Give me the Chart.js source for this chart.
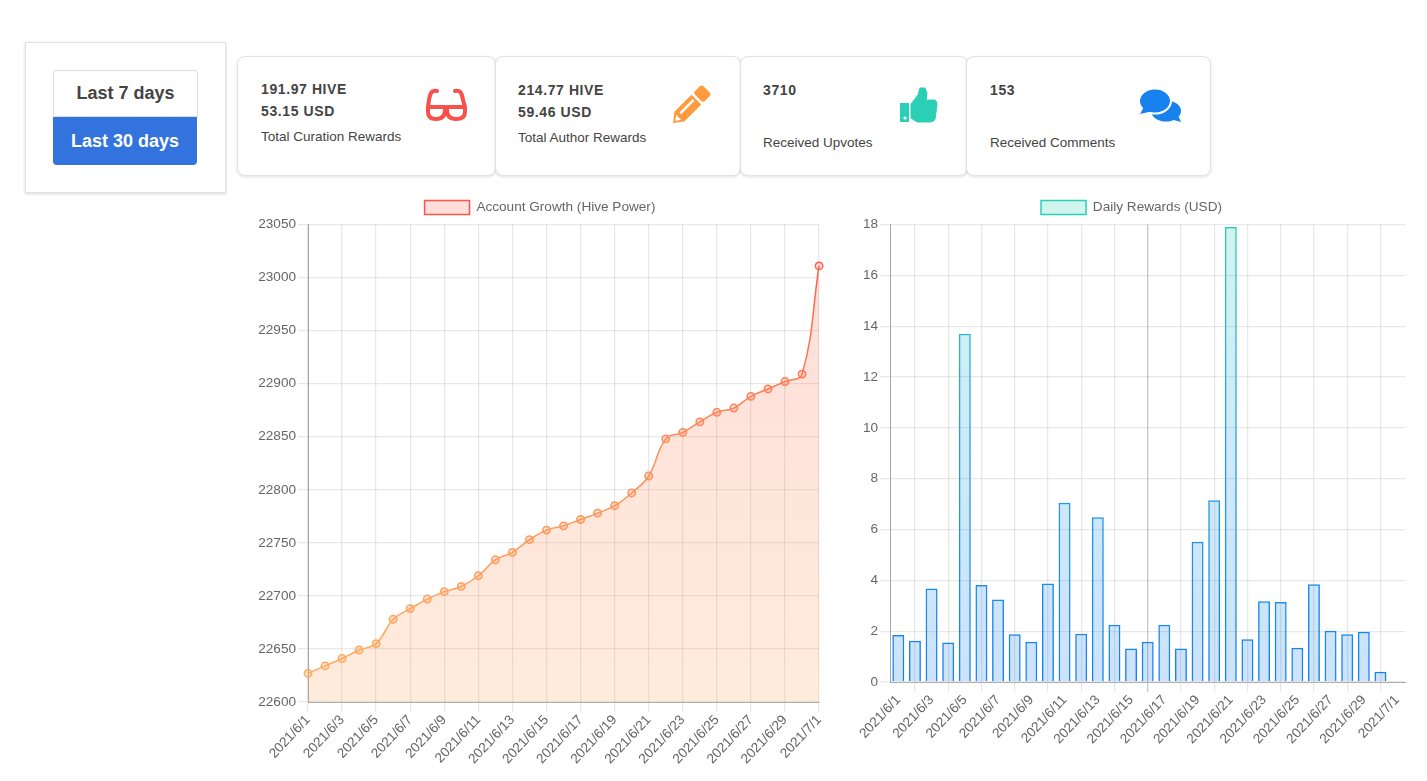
<!DOCTYPE html>
<html>
<head>
<meta charset="utf-8">
<title>Account stats</title>
<script src="https://cdn.jsdelivr.net/npm/chart.js@4"></script>
<style>
body { margin: 0; background: #fff; font-family: "Liberation Sans", Arial, sans-serif; color: #444; }
.box { position: absolute; box-sizing: border-box; background: #fff; }
.range { left: 25px; top: 42px; width: 201px; height: 151px; border: 1px solid #e2e2e2; box-shadow: 0 1px 3px rgba(0,0,0,.16); }
.btn { position: absolute; box-sizing: border-box; text-align: center; font-weight: bold; font-size: 18px; }
.btn7 { left: 53px; top: 70px; width: 145px; height: 47px; line-height: 45px; border: 1px solid #ddd; border-radius: 3px 3px 0 0; background: #fff; color: #444; }
.btn30 { left: 53px; top: 117px; width: 144px; height: 48px; line-height: 48px; border-radius: 0 0 4px 4px; background: #3373dd; color: #fff; }
.card { top: 56px; height: 120px; border: 1px solid #e3e3e3; border-radius: 8px; box-shadow: 0 1px 3px rgba(0,0,0,.13); }
.txt { position: absolute; white-space: nowrap; font-size: 13.5px; line-height: 16px; }
.txt.b { font-size: 14px; font-weight: bold; letter-spacing: .6px; }
canvas { position: absolute; }
#icons { position: absolute; left: 0; top: 0; }
</style>
</head>
<body>
<div class="box range"></div>
<div class="btn btn7">Last 7 days</div>
<div class="btn btn30">Last 30 days</div>

<div class="box card" style="left:237px;width:259px"></div>
<div class="box card" style="left:495px;width:246px"></div>
<div class="box card" style="left:740px;width:228px"></div>
<div class="box card" style="left:966px;width:245px"></div>

<div class="txt b" style="left:261px;top:81px">191.97 HIVE</div>
<div class="txt b" style="left:261px;top:103px">53.15 USD</div>
<div class="txt" style="left:261px;top:129px">Total Curation Rewards</div>
<div class="txt b" style="left:518px;top:82px">214.77 HIVE</div>
<div class="txt b" style="left:518px;top:104px">59.46 USD</div>
<div class="txt" style="left:518px;top:130px">Total Author Rewards</div>
<div class="txt b" style="left:763px;top:82px">3710</div>
<div class="txt" style="left:763px;top:135px">Received Upvotes</div>
<div class="txt b" style="left:990px;top:82px">153</div>
<div class="txt" style="left:990px;top:135px">Received Comments</div>

<svg id="icons" width="1427" height="200">
  <g fill="none" stroke="#f9504b" stroke-width="4" stroke-linecap="round" stroke-linejoin="round">
    <path d="M437 91 C431 90 430 94 429 100 L428 107 L428 112 C428 117 431 119 436 119 C442 119 445 116 445 110 L445 107 L428 107"/>
    <path d="M455 91 C461 90 462 94 463 100 L465 107 L465 112 C465 117 461 119 456 119 C450 119 447 116 447 110 L447 107 L465 107"/>
    <path d="M445 108 L447 108"/>
  </g>
  <g transform="translate(673 123) rotate(-45)" fill="#ff9a3d">
    <path d="M0 0 L9 -7 L33 -7 L33 7 L9 7 Z"/>
    <rect x="35.5" y="-7" width="12" height="14" rx="3"/>
    <rect x="12" y="-3" width="19" height="2.5" fill="#fff"/>
    <path d="M3 0 L8 -3.5 L8 3.5 Z" fill="#fff"/>
  </g>
  <g fill="#2bcfb5">
    <path d="M900 103 H909 V122 H900 Z"/>
    <path d="M911 104 L918 95 L920 88 L925 88 L927 93 L926 100 L935 100 Q937 101 937 105 L935 119 Q934 122 930 122 L917 122 L911 118 Z" stroke="#2bcfb5" stroke-linejoin="round"/>
    <circle cx="905" cy="118" r="1.6" fill="#fff"/>
  </g>
  <g fill="#1781ee">
    <path d="M1181 122 L1170 119 L1177 113 Z"/>
    <ellipse cx="1166" cy="111" rx="15" ry="10.5"/>
    <ellipse cx="1155" cy="101" rx="16" ry="12.5" stroke="#fff" stroke-width="2"/>
    <path d="M1140 114 L1145 105 L1153 111 Z"/>
  </g>
</svg>

<canvas id="growth" width="573" height="577" style="left:258px;top:193px"></canvas>
<canvas id="rewards" width="555" height="557" style="left:854px;top:193px"></canvas>

<script>
const days = ["2021/6/1","2021/6/2","2021/6/3","2021/6/4","2021/6/5","2021/6/6","2021/6/7","2021/6/8","2021/6/9","2021/6/10","2021/6/11","2021/6/12","2021/6/13","2021/6/14","2021/6/15","2021/6/16","2021/6/17","2021/6/18","2021/6/19","2021/6/20","2021/6/21","2021/6/22","2021/6/23","2021/6/24","2021/6/25","2021/6/26","2021/6/27","2021/6/28","2021/6/29","2021/6/30","2021/7/1"];
const hivePower = [22627,22634,22641,22649,22655,22678,22688,22697,22704,22709,22719,22734,22741,22753,22762,22766,22772,22778,22785,22797,22813,22848,22854,22864,22873,22877,22888,22895,22902,22909,23011];
const dailyRewards = [1.85,1.62,3.68,1.55,13.7,3.82,3.25,1.88,1.58,3.88,7.05,1.9,6.48,2.25,1.32,1.58,2.25,1.32,5.52,7.15,17.9,1.68,3.18,3.15,1.35,3.85,2.02,1.88,1.98,0.4,null];

Chart.defaults.font.family = '"Liberation Sans", Arial, sans-serif';
Chart.defaults.font.size = 13.6;
Chart.defaults.color = "#666";

const gridColor = "rgba(0,0,0,0.09)";

function vGrad(ctx, top, bottom, c1, c2, c3){
    let g = ctx.createLinearGradient(0, top, 0, bottom);
    g.addColorStop(0, c1);
    if(c3){
        g.addColorStop(0.5, c2);
        g.addColorStop(1, c3);
    }else{
        g.addColorStop(1, c2);
    }
    return g;
}
//only every second date gets a tick and a grid line
function everyOther(scale){
    scale.ticks = scale.ticks.filter((t, i) => i % 2 === 0);
}
function xAxis(offset, extraGrid){
    return {
        offset: offset,
        afterBuildTicks: everyOther,
        afterFit: s => { s.height = 68; },
        border: { color: "rgba(0,0,0,0.3)" },
        grid: {
            color: extraGrid || gridColor,
            lineWidth: 1.3,
            tickLength: 10
        },
        ticks: { autoSkip: false, minRotation: 47, maxRotation: 47, padding: 0 }
    };
}
function yAxis(min, max, step, width){
    return {
        min: min,
        max: max,
        afterFit: s => { s.width = width; },
        border: { color: "rgba(0,0,0,0.35)" },
        grid: { color: gridColor, lineWidth: 1.3, tickLength: 10 },
        ticks: { stepSize: step, padding: 2, callback: v => String(v) }
    };
}
function legend(){
    return {
        position: "top",
        labels: { boxWidth: 45, boxHeight: 14, padding: 7.5 }
    };
}

let ctxA = document.getElementById("growth").getContext("2d");
let lineStroke = vGrad(ctxA, 20, 480, "rgb(250,85,70)", "rgb(253,140,90)", "rgb(255,172,95)");
new Chart(ctxA, {
    type: "line",
    data: {
        labels: days,
        datasets: [{
            label: "Account Growth (Hive Power)",
            data: hivePower,
            borderColor: lineStroke,
            backgroundColor: vGrad(ctxA, 20, 480, "rgba(250,85,70,0.2)", "rgba(255,165,90,0.22)"),
            pointBackgroundColor: vGrad(ctxA, 20, 480, "rgba(250,85,70,0.2)", "rgba(255,165,90,0.3)"),
            pointBorderColor: lineStroke,
            borderWidth: 1.5,
            pointBorderWidth: 1.5,
            pointRadius: 3.7,
            tension: 0.4,
            fill: true
        }]
    },
    options: {
        responsive: false,
        animation: false,
        layout: { padding: { right: 9 } },
        plugins: { legend: legend(), tooltip: { enabled: false } },
        scales: {
            x: xAxis(false),
            y: yAxis(22600, 23050, 50, 50)
        }
    }
});

let ctxB = document.getElementById("rewards").getContext("2d");
new Chart(ctxB, {
    type: "bar",
    data: {
        labels: days,
        datasets: [{
            label: "Daily Rewards (USD)",
            data: dailyRewards,
            borderColor: vGrad(ctxB, 20, 480, "rgb(43,207,181)", "rgb(35,160,230)", "rgb(23,129,238)"),
            backgroundColor: vGrad(ctxB, 20, 480, "rgba(43,207,181,0.22)", "rgba(35,160,230,0.22)", "rgba(23,129,238,0.22)"),
            borderWidth: 1.5
        }]
    },
    options: {
        responsive: false,
        animation: false,
        layout: { padding: 0 },
        plugins: { legend: legend(), tooltip: { enabled: false } },
        scales: {
            //the grid line of 6/17 is darker in the original
            x: xAxis(true, c => c.tick && c.tick.label === "2021/6/17" ? "rgba(0,0,0,0.22)" : gridColor),
            y: yAxis(0, 18, 2, 36)
        }
    }
});
</script>
</body>
</html>
